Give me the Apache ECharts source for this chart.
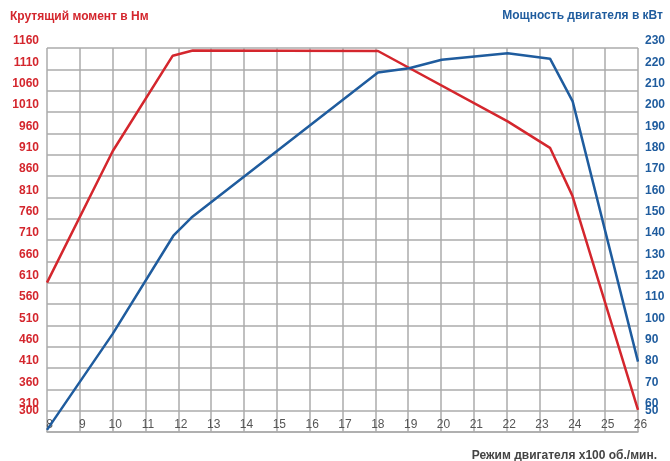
<!DOCTYPE html>
<html>
<head>
<meta charset="utf-8">
<script src="https://cdn.jsdelivr.net/npm/echarts@6/dist/echarts.min.js"></script>
<style>html,body{margin:0;padding:0;background:#fff}#c{width:670px;height:461px}</style>
</head>
<body>
<div id="c"></div>
<script>
// Engine speed (x100 rpm) and torque (Nm)
const torqueRpm = [8, 10, 11.83, 12.44, 18.08, 22.03, 23.32, 24, 26];
const torque    = [600, 908, 1132, 1144, 1143, 978, 916, 804, 302];
// Engine speed (x100 rpm) and power (kW)
const powerRpm  = [8, 10, 11.85, 12.4, 18.08, 19.03, 20.02, 22.03, 23.32, 24.01, 26];
const power     = [41, 86, 132, 140.5, 208.5, 210.5, 214.5, 217.5, 215, 195, 73];

const xTickLabels = ['8','9','10','11','12','13','14','15','16','17','18','19','20','21','22','23','24','25','26'];
const leftTickLabels = ['310','360','410','460','510','560','610','660','710','760','810','860','910','960','1010','1060','1110','1160'];
const rightTickLabels = ['60','70','80','90','100','110','120','130','140','150','160','170','180','190','200','210','220','230'];
const leftExtraLabel = '300';
const rightExtraLabel = '50';

const titleLeft = 'Крутящий момент в Нм';
const titleRight = 'Мощность двигателя в кВт';
const titleX = 'Режим двигателя х100 об./мин.';

const RED = '#d4262d';
const BLUE = '#1f5c9e';
const GRID = '#ababab';
const FONT = '"Liberation Sans", Arial, sans-serif';

const chart = echarts.init(document.getElementById('c'), null, {renderer: 'canvas'});

const LMIN = 250, LMAX = 1150, LINT = 50;
const RMIN = 40, RMAX = 220, RINT = 10;

chart.setOption({
  animation: false,
  backgroundColor: '#fff',
  title: [
    {text: titleLeft, left: 10, top: 11, padding: 0,
     textStyle: {color: RED, fontSize: 12, fontWeight: 'bold', fontFamily: FONT}},
    {text: titleRight, right: 7, top: 10, padding: 0,
     textStyle: {color: BLUE, fontSize: 12, fontWeight: 'bold', fontFamily: FONT}},
    {text: titleX, right: 13, top: 450, padding: 0,
     textStyle: {color: '#444', fontSize: 12, fontWeight: 'bold', fontFamily: FONT}}
  ],
  grid: {left: 47, right: 32, top: 48, bottom: 29, containLabel: false},
  xAxis: {
    type: 'value', min: 8, max: 26, interval: 1,
    axisLine: {show: true, lineStyle: {color: GRID, width: 1.5}},
    axisTick: {show: false},
    splitLine: {show: true, lineStyle: {color: GRID, width: 1.5}},
    axisLabel: {
      inside: true, margin: 1, color: '#555', fontSize: 12, fontFamily: FONT,
      padding: [0, 0, 0, 5],
      showMinLabel: true, showMaxLabel: true,
      formatter: v => { const i = Math.round(v - 8); return xTickLabels[i] || ''; }
    }
  },
  yAxis: [
    {
      type: 'value', position: 'left', min: LMIN, max: LMAX, interval: LINT,
      axisLine: {show: false}, axisTick: {show: false},
      splitLine: {show: true, lineStyle: {color: GRID, width: 1.5}},
      axisLabel: {
        margin: 8, color: RED, fontSize: 12, fontWeight: 'bold', fontFamily: FONT,
        verticalAlign: 'bottom', padding: [0, 0, 1, 0],
        showMinLabel: true, showMaxLabel: true,
        formatter: v => { const i = Math.round((v - 300) / LINT); return i >= 0 ? (leftTickLabels[i] || '') : ''; }
      }
    },
    {
      type: 'value', position: 'right', min: RMIN, max: RMAX, interval: RINT,
      axisLine: {show: false}, axisTick: {show: false}, splitLine: {show: false},
      axisLabel: {
        margin: 7, color: BLUE, fontSize: 12, fontWeight: 'bold', fontFamily: FONT,
        verticalAlign: 'bottom', padding: [0, 0, 1, 0],
        showMinLabel: true, showMaxLabel: true,
        formatter: v => { const i = Math.round((v - 50) / RINT); return i >= 0 ? (rightTickLabels[i] || '') : ''; }
      }
    },
    {
      type: 'value', position: 'left', min: LMIN, max: LMAX, interval: LINT,
      axisLine: {show: false}, axisTick: {show: false}, splitLine: {show: false},
      axisLabel: {
        margin: 8, color: RED, fontSize: 12, fontWeight: 'bold', fontFamily: FONT,
        verticalAlign: 'middle', padding: [0, 0, 8, 0],
        formatter: v => v === 300 ? leftExtraLabel : ''
      }
    },
    {
      type: 'value', position: 'right', min: RMIN, max: RMAX, interval: RINT,
      axisLine: {show: false}, axisTick: {show: false}, splitLine: {show: false},
      axisLabel: {
        margin: 7, color: BLUE, fontSize: 12, fontWeight: 'bold', fontFamily: FONT,
        verticalAlign: 'middle', padding: [0, 0, 8, 0],
        formatter: v => v === 50 ? rightExtraLabel : ''
      }
    }
  ],
  series: [
    {
      name: titleLeft, type: 'line', yAxisIndex: 0, symbol: 'none', z: 3,
      lineStyle: {color: RED, width: 2.5},
      data: torqueRpm.map((x, i) => [x, torque[i]])
    },
    {
      name: titleRight, type: 'line', yAxisIndex: 1, symbol: 'none', z: 4,
      lineStyle: {color: BLUE, width: 2.5},
      data: powerRpm.map((x, i) => [x, power[i]])
    }
  ]
});
</script>
</body>
</html>
